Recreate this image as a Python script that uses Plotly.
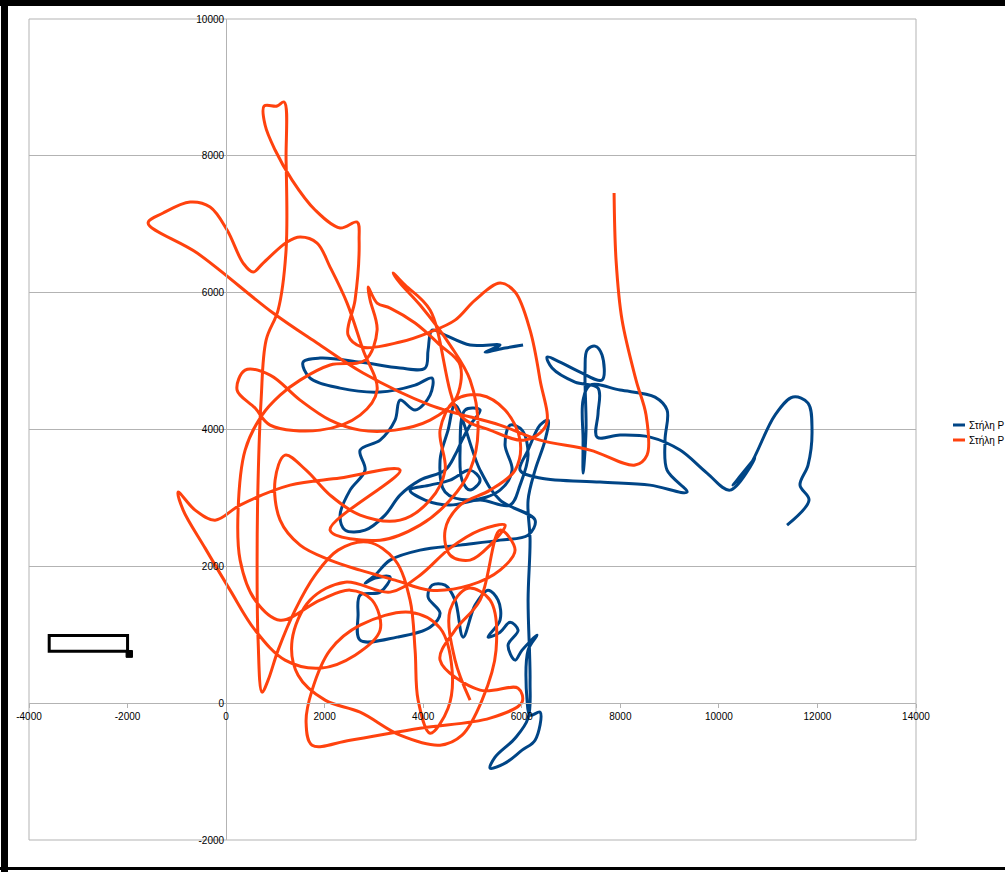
import plotly.graph_objects as go

# ---------------- data ----------------
series_names = ["Στήλη P", "Στήλη P"]

orange_x = [4951, 4646, 4545, 4910, 5357, 5478, 5194, 4788, 4342, 3530, 2719, 2009, 1461, 1339, 1704, 2415,
            3328, 3936, 4545, 5154,
            5661, 5357, 4951, 4545, 4444, 4748, 5357, 5864, 5965, 5661, 5154, 4646, 4342, 4444, 4139, 3530,
            2719, 2110, 1623, 1197, 994, 1096, 1501, 2110, 2719, 3429, 4139, 4951, 5559, 5864, 5559, 5154,
            4646,
            4342, 5154, 5925, 6006, 5357, 3936, 2516, 1745, 1623, 1745, 2110, 2719, 3733, 4342, 4586, 4504,
            4139, 3896, 3835, 3733, 3429, 2881, 2272, 1806, 1400, 1055, 852, 730, 649, 629, 649, 710,
            812, 1055, 1217, 1217, 1177, 1035, 771, 791, 994, 1339, 1806, 2313, 2658, 2699, 2617, 2475,
            2759, 3530, 4139, 4646, 5052, 5559, 5864, 6168, 6371, 6493, 6067, 5357, 4748, 4139, 3632, 3388,
            3530, 3936, 4545, 4951, 5113, 4951, 4545, 3936, 3125, 2110, 3530, 2313, 1299, 284, -223, -629,
            -974, -872, -426, 81, 588, 1197, 1907, 2617, 3125, 2962, 2516, 1907, 1096, 588, 284, 243,
            386, 730, 1096, 1501, 2110, 2820, 3064, 2922, 2881, 3064, 3328, 3835, 4342, 4748, 4646, 4139,
            3429, 2719, 2110, 1501, 893, 386, 223, 588, 893, 1907, 2719, 3064, 2780, 2455, 2110, 1846,
            1501, 1238, 751, 548, 345, 20, -325, -730, -1278, -1583, -588, 954, 1846, 2780, 4139, 5559,
            6371, 7386, 8299, 8542, 8522, 8319, 8035, 7913, 7873]
orange_y = [44, 629, 1360, 1681, 1506, 775, 44, -468, -614, -468, -132, 44, 409, 921, 1506, 1769,
            1623, 1871, 2266, 2529,
            2602, 2310, 2091, 2164, 2529, 2895, 3114, 3406, 3845, 4284, 4503, 4430, 3991, 3406, 2968, 2675,
            2749, 3041, 3406, 3626, 3260, 2675, 2310, 2091, 1944, 1798, 1652, 1725, 1944, 2237, 2529, 1506,
            1067,
            629, 190, 219, 15, -219, -366, -541, -614, -278, 190, 775, 1140, 1330, 1097, 482, -73,
            -439, 44, 775, 1506, 2091, 2354, 2237, 1871, 1360, 775, 336, 161, 921, 2091, 3260, 4430,
            5307, 5746, 6623, 7939, 8787, 8728, 8728, 8450, 8085, 7646, 7208, 6945, 7032, 6769, 5892, 5380,
            5205, 5278, 5424, 5599, 5892, 6140, 6009, 5453, 4722, 4064, 3845, 3991, 4211, 5746, 6111, 6287,
            6140, 5819, 5234, 4722, 3991, 3406, 2968, 2602, 2383, 2529, 3406, 3290, 3187, 2895, 2675, 2822,
            3085, 2822, 2266, 1652, 1067, 629, 512, 702, 1067, 1506, 1652, 1506, 1213, 1506, 2091, 2822,
            3699, 4211, 4503, 4722, 4942, 5015, 5453, 5892, 6082, 5848, 5775, 5556, 5234, 4942, 4430, 4137,
            3991, 3991, 4137, 4430, 4795, 4868, 4576, 4313, 4064, 3991, 4211, 4576, 5161, 5848, 6374, 6725,
            6813, 6740, 6433, 6301, 6433, 6915, 7252, 7325, 7164, 7018, 6579, 5702, 5263, 4825, 4357, 4064,
            3845, 3699, 3480, 3626, 4211, 4722, 5599, 6477, 7456]

blue_x = [6026, 5661, 5255, 5559, 4951, 4444, 4180, 4099, 4038, 3530, 2719, 1907, 1562, 1704, 2313, 3125,
          3835, 4180, 4139, 3835, 3530, 3429, 3125, 2719, 2820, 2516, 2313, 2415, 2820, 3226, 3530, 3936,
          4444, 4646, 4788, 4951, 5154, 4849, 4748, 4788, 4951, 5154, 4951, 4545, 4139, 3733, 4038, 4545,
          5154, 5762,
          5965, 6128, 6006, 5762, 5661, 5803, 5559, 4951, 4444, 4342, 4504, 4646, 5154, 5559,
          6270, 6128, 5559, 4748, 3936, 3328, 3023, 2820, 3023, 3328, 3125, 2719, 2678, 2719,
          3470, 4139, 4342, 4099, 4180, 4444, 4646, 4809, 5052, 5316, 5519, 5559, 5316, 5559, 5762, 5925,
          5722, 5864, 6006, 6310, 6128, 6107, 6168, 6371, 6270, 6006, 5661, 5357, 5458, 5864, 6128, 6168,
          6128, 6168, 6128, 6270, 6473, 6533, 6371, 6128, 5965, 6371, 7588, 8603, 9354, 8948, 8907, 8948,
          8704, 7994, 7386, 7244, 7244, 7244, 7304, 7284, 7325, 7487, 7629, 7629, 7183, 6777, 6513, 6615,
          7081, 7548, 7548, 7528, 7994, 8603, 9212, 9759, 10226, 10733, 10287, 10632, 11139, 11504, 11809, 11890,
          11809, 11646, 11829, 11383]
blue_y = [5234, 5190, 5132, 5234, 5234, 5380, 5453, 5161, 4898, 4898, 4985, 5044, 4985, 4752, 4605, 4547,
          4649, 4752, 4503, 4284, 4430, 4137, 3845, 3699, 3406, 3114, 2749, 2529, 2529, 2749, 3041, 3260,
          3406, 3626, 3845, 4064, 4284, 4284, 3699, 3260, 3114, 3260, 3406, 3260, 3187, 3114, 2968, 2895,
          2968, 2895,
          3187, 3626, 3991, 4064, 3772, 3406, 3114, 2968, 3085, 3553, 3991, 4357, 3406, 2968,
          2675, 2456, 2383, 2310, 2237, 2091, 1871, 1754, 1828, 1842, 1623, 1579, 1287, 921,
          965, 1111, 1316, 1550, 1725, 1725, 1506, 965, 1433, 1652, 1506, 1213, 965, 1038, 1184, 1067,
          848, 629, 775, 994, 775, 44, -175, -132, -541, -687, -877, -950, -789, -512, -219, 336,
          1506, 2383, 2968, 3406, 3845, 4137, 4064, 3699, 3406, 3290, 3231, 3187, 3085, 3406, 3845, 4284,
          4474, 4576, 4649, 4430, 3845, 3363, 3991, 4868, 5161, 5219, 5088, 4722, 4839, 4985, 5059, 4898,
          4693, 4605, 4240, 3889, 3918, 3889, 3699, 3363, 3114, 3582, 3187, 3480, 4211, 4474, 4386, 3991,
          3480, 3187, 2968, 2602]

x_ticks = [-4000, -2000, 0, 2000, 4000, 6000, 8000, 10000, 12000, 14000]
y_ticks = [-2000, 0, 2000, 4000, 6000, 8000, 10000]

# drawing object in the reference (rectangle with handle), in data units
box_x = [-3590, -2000]
box_y = [760, 990]
handle_x = [-2030, -1900]
handle_y = [670, 770]

# ---------------- styling ----------------
BLUE = "#004586"
ORANGE = "#ff420e"
GRID = "#b3b3b3"
FONT = "Liberation Sans"

W, H = 1005, 872
L, R, T, B = 29, 916, 19, 840  # plot area in pixels


def pxx(p):
    return (p - L) / (R - L)


def pxy(p):
    return (B - p) / (B - T)


fig = go.Figure()
fig.add_trace(go.Scatter(x=blue_x, y=blue_y, mode="lines", name=series_names[0],
                         line=dict(color=BLUE, width=3, shape="spline", smoothing=1.0),
                         showlegend=False))
fig.add_trace(go.Scatter(x=orange_x, y=orange_y, mode="lines", name=series_names[1],
                         line=dict(color=ORANGE, width=3, shape="spline", smoothing=1.0),
                         showlegend=False))

shapes = []
# plot frame
shapes.append(dict(type="rect", xref="paper", yref="paper", x0=0, x1=1, y0=0, y1=1,
                   line=dict(color=GRID, width=1), layer="below"))
# drawing object
shapes.append(dict(type="rect", xref="x", yref="y", x0=box_x[0], x1=box_x[1], y0=box_y[0], y1=box_y[1],
                   line=dict(color="black", width=3)))
shapes.append(dict(type="rect", xref="x", yref="y", x0=handle_x[0], x1=handle_x[1], y0=handle_y[0],
                   y1=handle_y[1], line=dict(color="black", width=1), fillcolor="black"))
# black border of the screenshot
shapes.append(dict(type="rect", xref="paper", yref="paper", x0=pxx(1), x1=pxx(8), y0=pxy(872), y1=pxy(0),
                   line=dict(width=0), fillcolor="black"))
shapes.append(dict(type="rect", xref="paper", yref="paper", x0=pxx(0), x1=pxx(1005), y0=pxy(6), y1=pxy(0),
                   line=dict(width=0), fillcolor="black"))
shapes.append(dict(type="rect", xref="paper", yref="paper", x0=pxx(0), x1=pxx(1005), y0=pxy(870), y1=pxy(867),
                   line=dict(width=0), fillcolor="black"))
# manual legend keys
for i, c in enumerate([BLUE, ORANGE]):
    yy = 425 + 15 * i
    shapes.append(dict(type="line", xref="paper", yref="paper", x0=pxx(953), x1=pxx(965),
                       y0=pxy(yy), y1=pxy(yy), line=dict(color=c, width=3)))

annotations = []
for i, n in enumerate(series_names):
    yy = 425 + 15 * i
    annotations.append(dict(xref="paper", yref="paper", x=pxx(967), y=pxy(yy), text=n, showarrow=False,
                            xanchor="left", yanchor="middle", font=dict(family=FONT, size=10, color="black")))

fig.update_layout(
    width=W, height=H,
    margin=dict(l=L, r=W - R, t=T, b=H - B, pad=0),
    paper_bgcolor="white", plot_bgcolor="white",
    shapes=shapes, annotations=annotations,
    showlegend=False,
    xaxis=dict(range=[-4000, 14000], tickvals=x_ticks, ticktext=[str(v) for v in x_ticks],
               showgrid=False, zeroline=False, showline=True, linecolor=GRID, linewidth=1,
               anchor="free", position=2000 / 12000, ticks="outside", ticklen=4, tickcolor=GRID,
               tickfont=dict(family=FONT, size=10, color="black")),
    yaxis=dict(range=[-2000, 10000], tickvals=y_ticks, ticktext=[str(v) for v in y_ticks],
               showgrid=True, gridcolor=GRID, gridwidth=1, zeroline=False, showline=True,
               linecolor=GRID, linewidth=1, anchor="free", position=4000 / 18000, ticks="",
               tickfont=dict(family=FONT, size=10, color="black")),
)

fig.write_html("out.html", config={"displayModeBar": False},
               post_script="document.body.style.margin='0';document.body.style.overflow='hidden';")
